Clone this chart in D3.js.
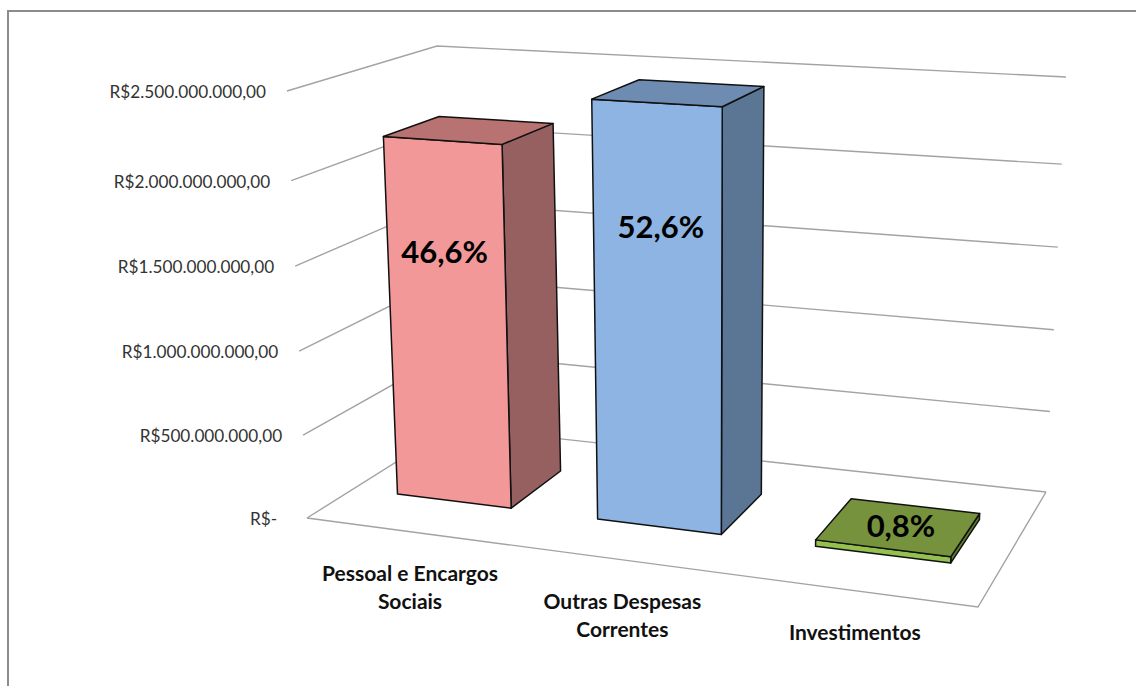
<!DOCTYPE html>
<html><head><meta charset="utf-8">
<script src="https://cdn.jsdelivr.net/npm/d3@7"></script>
<style>html,body{margin:0;background:#fff}svg{display:block}text{font-family:Lato,"Open Sans",sans-serif}</style>
</head><body><svg id="c" width="1136" height="686"></svg>
<script>
// ---- data
const categories = ["Pessoal e Encargos|Sociais", "Outras Despesas|Correntes", "Investimentos"];
const values = [2170000000, 2455000000, 37000000];
const shares = ["46,6%", "52,6%", "0,8%"];
const tickValues = [0, 500000000, 1000000000, 1500000000, 2000000000, 2500000000];
const tickLabels = ["R$-  ", "R$500.000.000,00", "R$1.000.000.000,00", "R$1.500.000.000,00", "R$2.000.000.000,00", "R$2.500.000.000,00"];
const labelLevels = [1510000000, 1760000000, null];
const labelShift = [-1, 4, 2];

// ---- layout
const W = 1136, H = 686;
const floorQuad = [[307,518],[978,607],[1046,492],[452,427]];
const ceilQuad  = [[287,91],[995,134],[1066,77],[437,46]];
const faceColors = [
  {front:"#F29898", top:"#B87272", side:"#966060"},
  {front:"#8DB4E2", top:"#6E8CB2", side:"#5B7595"},
  {front:"#93C04F", top:"#76923C", side:"#5F7A30"}
];
function quadMap(q){
  const [[x0,y0],[x1,y1],[x2,y2],[x3,y3]] = q;
  const dx1=x1-x2, dx2=x3-x2, sx=x0-x1+x2-x3, dy1=y1-y2, dy2=y3-y2, sy=y0-y1+y2-y3;
  const d=dx1*dy2-dx2*dy1, g=(sx*dy2-dx2*sy)/d, h=(dx1*sy-sx*dy1)/d;
  const a=x1-x0+g*x1, b=x3-x0+h*x3, c=x0, e=y1-y0+g*y1, f=y3-y0+h*y3;
  return (u,v)=>{const t=g*u+h*v+1;return [(a*u+b*v+c)/t,(e*u+f*v+y0)/t];};
}
const floorMap = quadMap(floorQuad), ceilMap = quadMap(ceilQuad);
const yScale = d3.scaleLinear().domain(tickValues).range([0,.194,.391,.59,.79,1]);
const xBand = d3.scaleBand().domain(categories).range([0,1.008]).paddingInner(.4217).paddingOuter(.229);
const depth = [.295,.68];
function project(u,v,val){
  const a=floorMap(u,v), b=ceilMap(u,v), w=yScale(val);
  return [a[0]+(b[0]-a[0])*w, a[1]+(b[1]-a[1])*w];
}
const svg = d3.select("#c");
const line = d3.line();
// outer border
svg.append("path").attr("d",line([[8,H],[8,11],[W,11]])).attr("fill","none").attr("stroke","#8c8c8c").attr("stroke-width",2);
// floor + walls
const grid = svg.append("g").attr("fill","none").attr("stroke","#a3a3a3").attr("stroke-width",1.4);
grid.selectAll("path").data(tickValues).join("path")
  .attr("d",t=>line([project(0,0,t),project(0,1,t),project(1,1,t)]));
grid.append("path").attr("d",line([project(0,0,0),project(1,0,0),project(1,1,0)]));
// ticks
svg.append("g").selectAll("text").data(tickValues).join("text")
  .attr("x",t=>project(0,0,t)[0]-21).attr("y",t=>project(0,0,t)[1]+7)
  .attr("text-anchor","end").attr("font-size",17.2).attr("fill","#333").style("white-space","pre")
  .text((t,i)=>tickLabels[i]);
// bars
const bars = svg.append("g").attr("stroke","#111").attr("stroke-width",1.5).attr("stroke-linejoin","round");
categories.forEach((cat,i)=>{
  const u0=xBand(cat), u1=u0+xBand.bandwidth(), [v0,v1]=depth, val=values[i], c=faceColors[i];
  const g=bars.append("g");
  g.append("path").attr("fill",c.side).attr("d",line([project(u1,v0,0),project(u1,v1,0),project(u1,v1,val),project(u1,v0,val)])+"Z");
  g.append("path").attr("fill",c.front).attr("d",line([project(u0,v0,0),project(u1,v0,0),project(u1,v0,val),project(u0,v0,val)])+"Z");
  g.append("path").attr("fill",c.top).attr("d",line([project(u0,v0,val),project(u1,v0,val),project(u1,v1,val),project(u0,v1,val)])+"Z");
  // share label
  const uc=(u0+u1)/2, lv=labelLevels[i];
  const p= lv==null ? project(uc,(v0+v1)/2,val) : project(uc,v0,lv);
  svg.append("text").attr("x",p[0]+labelShift[i]).attr("y",p[1]+11).attr("text-anchor","middle")
    .attr("font-size",31).attr("font-weight",700).attr("fill","#000").text(shares[i]);
  // category label
  const q=project(uc,0,0);
  const t=svg.append("text").attr("text-anchor","middle").attr("font-size",21).attr("font-weight",700).attr("fill","#111");
  cat.split("|").forEach((s,k)=>t.append("tspan").attr("x",q[0]).attr("y",q[1]+49+k*28).text(s));
});
</script></body></html>
